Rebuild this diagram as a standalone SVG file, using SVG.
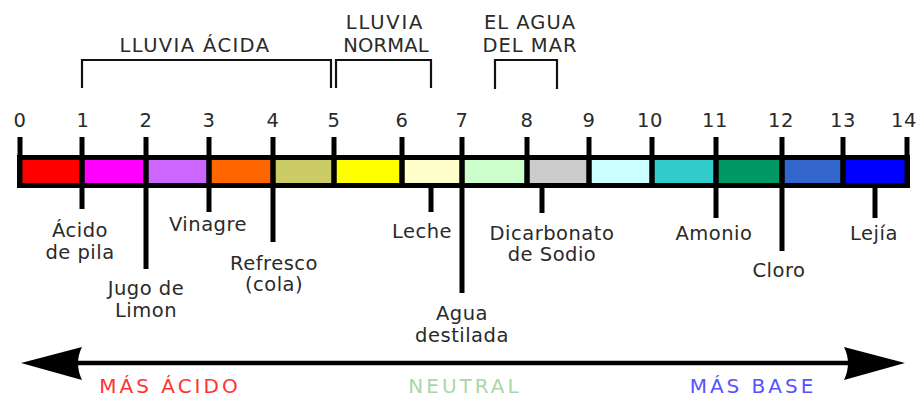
<svg xmlns="http://www.w3.org/2000/svg" width="919" height="397" viewBox="0 0 919 397">
<style>
text{font-family:"DejaVu Sans","Liberation Sans",sans-serif;font-size:19.5px;fill:#2a2a2a;text-anchor:middle;letter-spacing:0.5px}
.num{fill:#1a1a1a}
.cap{letter-spacing:1px}
.big{letter-spacing:3px;font-size:20px}
.tk{stroke:#000;stroke-width:5;fill:none}
.br{stroke:#111;stroke-width:2.2;fill:none}
.cell{stroke:none}
</style>
<rect width="919" height="397" fill="#fff"/>
<g id="scale">
<rect x="17" y="155" width="893" height="33" fill="#000"/>
<rect class="cell" x="22.5" y="160" width="57" height="23" fill="#ff0000"/>
<rect class="cell" x="84.5" y="160" width="59" height="23" fill="#ff00ff"/>
<rect class="cell" x="148.5" y="160" width="58" height="23" fill="#cc66ff"/>
<rect class="cell" x="211.5" y="160" width="59" height="23" fill="#ff6600"/>
<rect class="cell" x="275.5" y="160" width="56" height="23" fill="#cccc66"/>
<rect class="cell" x="336.5" y="160" width="63" height="23" fill="#ffff00"/>
<rect class="cell" x="404.5" y="160" width="55" height="23" fill="#ffffcc"/>
<rect class="cell" x="464.5" y="160" width="60" height="23" fill="#ccffcc"/>
<rect class="cell" x="529.5" y="160" width="57" height="23" fill="#cccccc"/>
<rect class="cell" x="591.5" y="160" width="58" height="23" fill="#ccffff"/>
<rect class="cell" x="654.5" y="160" width="59" height="23" fill="#33cccc"/>
<rect class="cell" x="718.5" y="160" width="61" height="23" fill="#009966"/>
<rect class="cell" x="784.5" y="160" width="56" height="23" fill="#3366cc"/>
<rect class="cell" x="845.5" y="160" width="59" height="23" fill="#0000ff"/>
<g class="tk">
<line x1="20" y1="137" x2="20" y2="160"/>
<line x1="82" y1="137" x2="82" y2="185"/>
<line x1="146" y1="137" x2="146" y2="185"/>
<line x1="209" y1="137" x2="209" y2="185"/>
<line x1="273" y1="137" x2="273" y2="185"/>
<line x1="334" y1="137" x2="334" y2="185"/>
<line x1="402" y1="137" x2="402" y2="185"/>
<line x1="462" y1="137" x2="462" y2="185"/>
<line x1="527" y1="137" x2="527" y2="185"/>
<line x1="589" y1="137" x2="589" y2="185"/>
<line x1="652" y1="137" x2="652" y2="185"/>
<line x1="716" y1="137" x2="716" y2="185"/>
<line x1="782" y1="137" x2="782" y2="185"/>
<line x1="843" y1="137" x2="843" y2="185"/>
<line x1="907" y1="137" x2="907" y2="160"/>
</g>
<g class="num">
<text x="20" y="127">0</text>
<text x="83" y="127">1</text>
<text x="146" y="127">2</text>
<text x="209" y="127">3</text>
<text x="273" y="127">4</text>
<text x="334" y="127">5</text>
<text x="402" y="127">6</text>
<text x="462" y="127">7</text>
<text x="527" y="127">8</text>
<text x="589" y="127">9</text>
<text x="650" y="127">10</text>
<text x="715" y="127">11</text>
<text x="781" y="127">12</text>
<text x="843" y="127">13</text>
<text x="904" y="127">14</text>
</g>
</g>
<g id="connectors">
<path class="br" d="M82,88 V60 H331 V88"/>
<path class="br" d="M336,88 V60 H431 V88"/>
<path class="br" d="M495,89 V60 H557 V89"/>
<g class="tk">
<line x1="82" y1="186" x2="82" y2="209"/>
<line x1="146" y1="186" x2="146" y2="269"/>
<line x1="209" y1="186" x2="209" y2="212"/>
<line x1="273" y1="186" x2="273" y2="242"/>
<line x1="431" y1="186" x2="431" y2="212"/>
<line x1="462" y1="186" x2="462" y2="293"/>
<line x1="542" y1="186" x2="542" y2="213"/>
<line x1="716" y1="186" x2="716" y2="218"/>
<line x1="782" y1="186" x2="782" y2="251"/>
<line x1="875" y1="186" x2="875" y2="218"/>
</g>
</g>
<g id="lluvia-acida"><text x="195" y="52" style="letter-spacing:1.4px">LLUVIA ÁCIDA</text></g>
<g id="lluvia-normal"><text x="385" y="29" style="letter-spacing:1.8px">LLUVIA</text><text x="386" y="52" class="cap" style="letter-spacing:0.2px">NORMAL</text></g>
<g id="agua-mar"><text x="530" y="29" class="cap">EL AGUA</text><text x="530" y="52" class="cap">DEL MAR</text></g>
<g id="acido-pila"><text x="80" y="237">Ácido</text><text x="80" y="259">de pila</text></g>
<g id="jugo-limon"><text x="146" y="295">Jugo de</text><text x="146" y="317">Limon</text></g>
<g id="vinagre"><text x="208" y="231">Vinagre</text></g>
<g id="refresco"><text x="274" y="270">Refresco</text><text x="274" y="291">(cola)</text></g>
<g id="leche"><text x="422" y="238">Leche</text></g>
<g id="agua-destilada"><text x="462" y="320">Agua</text><text x="462" y="342">destilada</text></g>
<g id="dicarbonato"><text x="552" y="240">Dicarbonato</text><text x="552" y="261">de Sodio</text></g>
<g id="amonio"><text x="714" y="240">Amonio</text></g>
<g id="cloro"><text x="779" y="277">Cloro</text></g>
<g id="lejia"><text x="874" y="240">Lejía</text></g>
<g id="arrow">
<line x1="70" y1="363" x2="856" y2="363" stroke="#000" stroke-width="4.5"/>
<path d="M21,363 L82,347 Q74,363 82,380 Z" fill="#000"/>
<path d="M905,363 L844,347 Q852,363 844,380 Z" fill="#000"/>
</g>
<g id="mas-acido"><text x="170" y="393" class="big" style="fill:#ff3333">MÁS ÁCIDO</text></g>
<g id="neutral"><text x="465" y="393" class="big" style="fill:#aad6aa">NEUTRAL</text></g>
<g id="mas-base"><text x="753" y="393" class="big" style="fill:#5555ff">MÁS BASE</text></g>
</svg>
